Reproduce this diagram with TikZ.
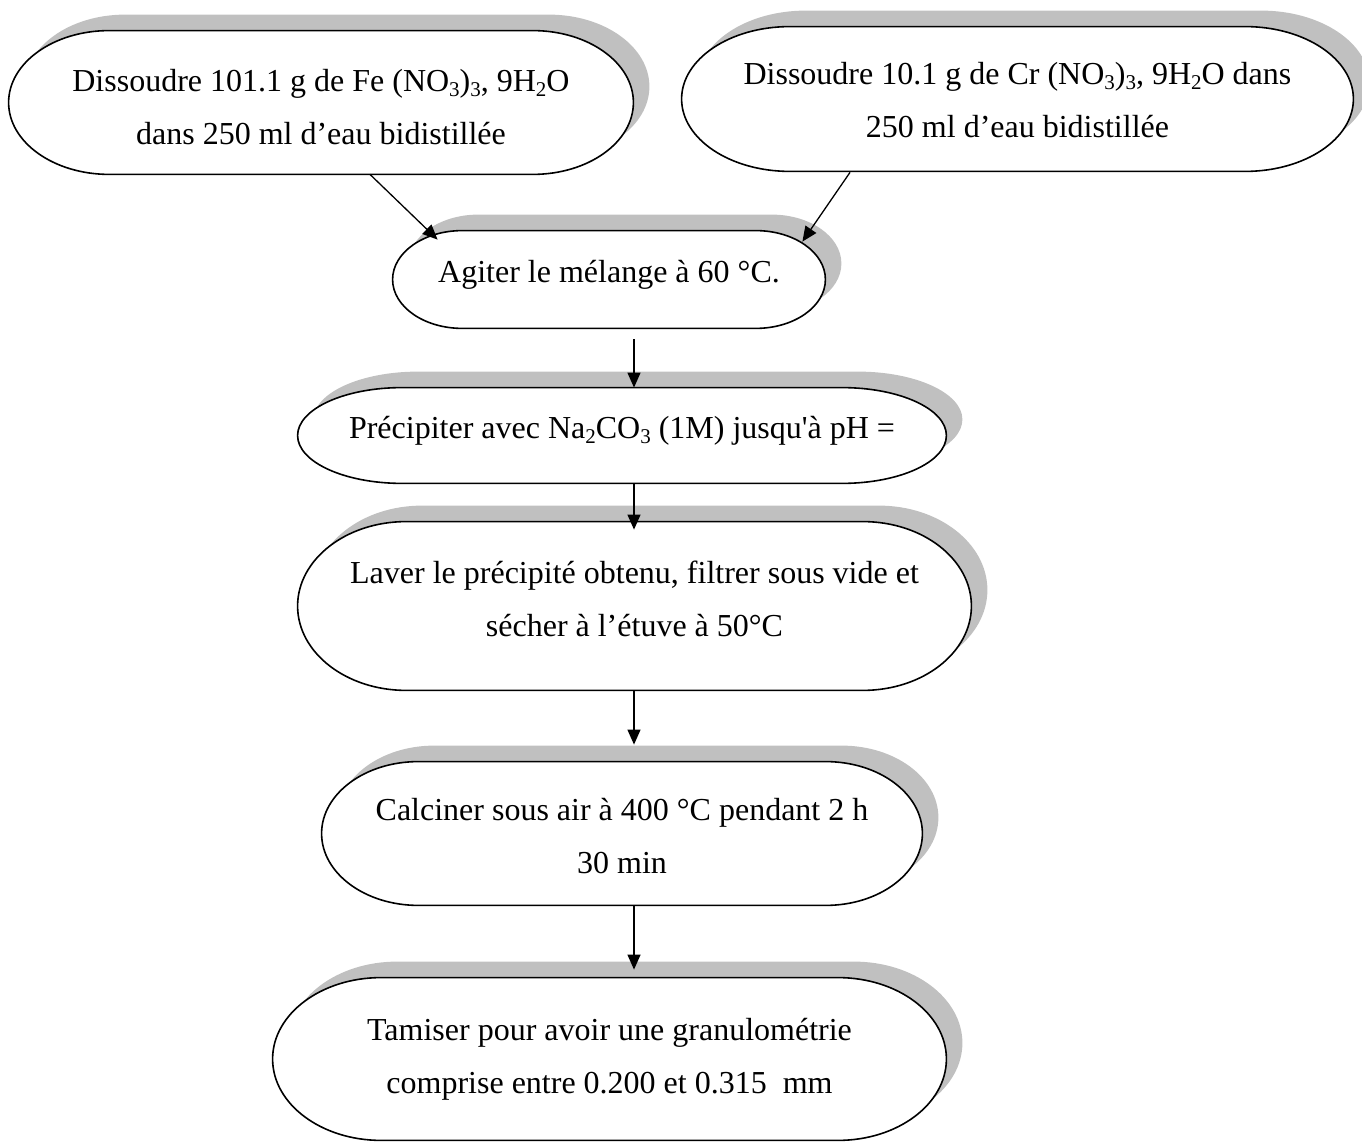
\documentclass[tikz,border=0pt]{standalone}
\usepackage{fontspec}
\setmainfont{Liberation Serif}
\usetikzlibrary{arrows.meta,calc}

\definecolor{shade}{RGB}{192,192,192}

% chemical subscript, sized for the 16pt body text
\newcommand\chemsub[1]{\raisebox{-0.16em}{\fontsize{10.5pt}{10pt}\selectfont #1}}

% terminator outline (straight top and bottom, half-ellipse ends) around a node,
% shifted by (#2,#3)
\newcommand\termoutline[3]{%
  let \p1=($(#1.north west)+(#2,#3)$), \p2=($(#1.south east)+(#2,#3)$),
      \n1={0.161*(\x2-\x1)}, \n2={0.5*(\y1-\y2)}, \n3={0.5*(\y1+\y2)},
      \n4={0.4477*\n1}, \n5={0.5523*\n2} in
  ({\x1+\n1*1pt},\y1) -- ({\x2-\n1*1pt},\y1)
  .. controls ({\x2-\n4*1pt},\y1) and (\x2,{(\n3+\n5)*1pt}) .. (\x2,{\n3*1pt})
  .. controls (\x2,{(\n3-\n5)*1pt}) and ({\x2-\n4*1pt},\y2) .. ({\x2-\n1*1pt},\y2)
  -- ({\x1+\n1*1pt},\y2)
  .. controls ({\x1+\n4*1pt},\y2) and (\x1,{(\n3-\n5)*1pt}) .. (\x1,{\n3*1pt})
  .. controls (\x1,{(\n3+\n5)*1pt}) and ({\x1+\n4*1pt},\y1) .. ({\x1+\n1*1pt},\y1)
  -- cycle}

\begin{document}
\begin{tikzpicture}[x=0.5pt,y=-0.5pt,
  stage/.style={rectangle,draw=none,inner sep=0pt},
  boxtext/.style={align=center,inner sep=0pt,text depth=4pt,
                  font=\fontsize{16pt}{26.5pt}\selectfont},
  arr/.style={line width=0.65pt,-{Triangle[length=7.5pt,width=6.5pt]}},
  outline/.style={fill=white,draw=black,line width=0.8pt},
  boxshadow/.style={fill=shade}]

\useasboundingbox (0,0) rectangle (1362,1144);

% process steps
\node[stage,minimum width=312pt,minimum height=71.5pt]   (fe) at (321,102.5) {};
\node[stage,minimum width=335.5pt,minimum height=72pt]   (cr) at (1017.5,99) {};
\node[stage,minimum width=216pt,minimum height=48.5pt]   (ag) at (609,279.5) {};
\node[stage,minimum width=324pt,minimum height=47.5pt]   (pr) at (622,435.5) {};
\node[stage,minimum width=336.5pt,minimum height=84pt]   (la) at (634.5,606) {};
\node[stage,minimum width=300pt,minimum height=71.5pt]   (ca) at (622,833.5) {};
\node[stage,minimum width=336.5pt,minimum height=81pt]   (ta) at (609.5,1059) {};

\coordinate (spine) at (634,0);

% shadows and outlines
\foreach \b in {fe,cr,ag,pr,la,ca,ta}{
  \path[boxshadow] \termoutline{\b}{8pt}{8pt};
  \path[outline] \termoutline{\b}{0pt}{0pt};
}

% texts
\node[boxtext] (fe-t) at ($(fe)+(0,8)$)
  {Dissoudre 101.1 g de Fe (NO\chemsub{3})\chemsub{3}, 9H\chemsub{2}O\\dans 250 ml d’eau bidistillée};
\node[boxtext] (cr-t) at ($(cr)+(0,4.5)$)
  {Dissoudre 10.1 g de Cr (NO\chemsub{3})\chemsub{3}, 9H\chemsub{2}O dans\\250 ml d’eau bidistillée};
\node[boxtext] (ag-t) at ($(ag)+(0,-4.5)$)
  {Agiter le mélange à 60 °C.};
\node[boxtext] (pr-t) at ($(pr)+(0,-4.5)$)
  {Précipiter avec Na\chemsub{2}CO\chemsub{3} (1M) jusqu\textquotesingle à pH =};
\node[boxtext] (la-t) at ($(la)+(0,-3.5)$)
  {Laver le précipité obtenu, filtrer sous vide et\\sécher à l’étuve à 50°C};
\node[boxtext] (ca-t) at ($(ca)+(0,6)$)
  {Calciner sous air à 400 °C pendant 2 h\\30 min};
\node[boxtext] (ta-t) at ($(ta)+(0,0.5)$)
  {Tamiser pour avoir une granulométrie\\comprise entre 0.200 et 0.315~~mm};

% connectors
\draw[arr] ($(fe.south)+(49,0)$) -- ($(ag.north west)+(45,9)$);
\draw[arr] ($(cr.south)+(-167.5,1)$) -- ($(ag.north east)+(-23,11)$);
\draw[arr] ($(ag.south -| spine)+(0,11)$) -- (pr.north -| spine);
\draw[arr] (pr.south -| spine) -- ($(la.north -| spine)+(0,8)$);
\draw[arr] (la.south -| spine) -- ($(ca.north -| spine)+(0,-17)$);
\draw[arr] (ca.south -| spine) -- ($(ta.north -| spine)+(0,-8)$);

\end{tikzpicture}
\end{document}
